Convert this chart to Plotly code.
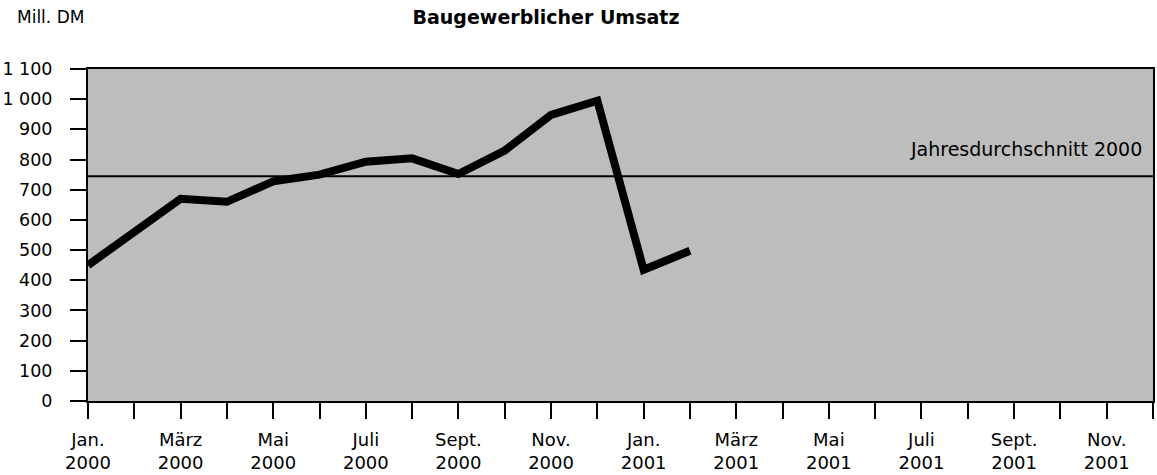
import plotly.graph_objects as go

# Data
months_idx = list(range(14))  # Jan 2000 .. Feb 2001
umsatz = [450, 560, 670, 660, 728, 750, 793, 804, 752, 830, 948, 995, 435, 498]
durchschnitt_2000 = 745

x_ticks = list(range(24))
x_ticktext = ["Jan.<br>2000", "", "März<br>2000", "", "Mai<br>2000", "", "Juli<br>2000", "",
              "Sept.<br>2000", "", "Nov.<br>2000", "",
              "Jan.<br>2001", "", "März<br>2001", "", "Mai<br>2001", "", "Juli<br>2001", "",
              "Sept.<br>2001", "", "Nov.<br>2001", ""]
y_ticks = [0, 100, 200, 300, 400, 500, 600, 700, 800, 900, 1000, 1100]
y_ticktext = ["0", "100", "200", "300", "400", "500", "600", "700", "800", "900", "1 000", "1 100"]

FONT = "DejaVu Sans, Liberation Sans, Arial, sans-serif"
W, H = 1157, 475
L, R, T, B = 88, 4, 69, 74
PW, PH = W - L - R, H - T - B

fig = go.Figure()
fig.add_trace(go.Scatter(
    x=months_idx, y=umsatz, mode="lines",
    line=dict(color="black", width=8), hoverinfo="skip", showlegend=False,
))

fig.add_shape(type="line", xref="x", yref="y", x0=0, x1=23,
              y0=durchschnitt_2000, y1=durchschnitt_2000,
              line=dict(color="black", width=2))

fig.add_annotation(x=23, y=durchschnitt_2000, xref="x", yref="y",
                   text="Jahresdurchschnitt 2000", showarrow=False,
                   xanchor="right", yanchor="bottom", xshift=-9, yshift=14,
                   font=dict(family=FONT, size=19, color="black"))

fig.add_annotation(x=(15 - L) / PW, y=1 + (T - 17) / PH, xref="paper", yref="paper",
                   text="Mill. DM", showarrow=False, xanchor="left", yanchor="middle",
                   font=dict(family=FONT, size=17, color="black"))

fig.update_layout(
    width=W, height=H,
    margin=dict(l=L, r=R, t=T, b=B, autoexpand=False),
    paper_bgcolor="white", plot_bgcolor="#bdbdbd",
    font=dict(family=FONT, size=18, color="black"),
    title=dict(text="<b>Baugewerblicher Umsatz</b>", x=546 / W, xanchor="center",
               y=1 - 17 / H, yanchor="middle", font=dict(family=FONT, size=19)),
    xaxis=dict(range=[0, 23], tickmode="array", tickvals=x_ticks, ticktext=x_ticktext,
               ticks="outside", ticklen=16, tickwidth=2, tickcolor="black",
               ticklabelstandoff=5,
               showline=True, linecolor="black", linewidth=2, mirror=True,
               showgrid=False, zeroline=False, tickfont=dict(family=FONT, size=18)),
    yaxis=dict(range=[0, 1100], tickmode="array", tickvals=y_ticks, ticktext=y_ticktext,
               ticks="outside", ticklen=16, tickwidth=2, tickcolor="black",
               ticklabelstandoff=14,
               showline=True, linecolor="black", linewidth=2, mirror=True,
               showgrid=False, zeroline=False, tickfont=dict(family=FONT, size=17.5)),
)

fig.write_html("out.html", config={"displayModeBar": False},
               post_script="document.body.style.margin='0';document.body.style.overflow='hidden';")
